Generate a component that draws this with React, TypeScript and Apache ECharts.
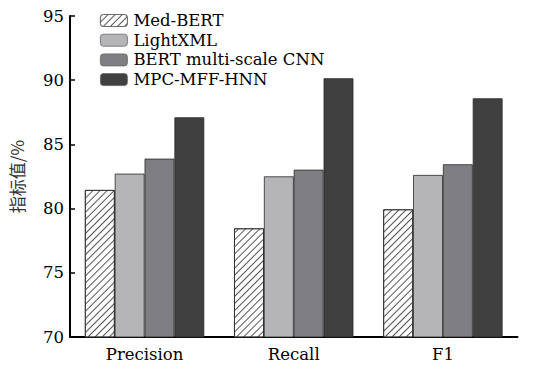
import React, { useEffect, useRef } from "react";
import * as echarts from "echarts";

const categories = ["Precision", "Recall", "F1"];
const seriesNames = ["Med-BERT", "LightXML", "BERT multi-scale CNN", "MPC-MFF-HNN"];
const medBert = [81.45, 78.46, 79.94];
const lightXML = [82.72, 82.51, 82.62];
const bertCNN = [83.89, 83.03, 83.45];
const mpcMffHnn = [87.11, 90.15, 88.59];
const yTicks = [70, 75, 80, 85, 90, 95];

const FONT = "DejaVu Serif";

export default function App() {
  const ref = useRef<HTMLDivElement>(null);
  useEffect(() => {
    if (!ref.current) return;
    const chart = echarts.init(ref.current, null, { renderer: "svg" });
    const border = { borderColor: "#2a2a2a", borderWidth: 0.8 };
    chart.setOption({
      animation: false,
      backgroundColor: "#ffffff",
      textStyle: { fontFamily: FONT },
      legend: {
        orient: "vertical",
        left: 95,
        top: 7,
        itemWidth: 27,
        itemHeight: 12,
        itemGap: 2.7,
        itemStyle: { borderColor: "#666", borderWidth: 0.8 },
        textStyle: { fontFamily: FONT, fontSize: 16.5, lineHeight: 16, color: "#000", padding: [0, 0, 0, 1] },
        data: seriesNames,
      },
      grid: { left: 66.5, right: 18.5, top: 16, bottom: 36, containLabel: false },
      xAxis: {
        type: "category",
        data: categories,
        axisLine: { lineStyle: { color: "#000", width: 2 } },
        axisTick: { show: false },
        axisLabel: { fontFamily: FONT, fontSize: 16.5, color: "#000", margin: 9 },
      },
      yAxis: {
        type: "value",
        min: yTicks[0],
        max: yTicks[yTicks.length - 1],
        interval: 5,
        splitLine: { show: false },
        axisLine: { show: true, lineStyle: { color: "#000", width: 2 } },
        axisTick: { show: true, inside: true, length: 5, lineStyle: { color: "#000", width: 1.5 } },
        axisLabel: { fontFamily: FONT, fontSize: 16.5, color: "#000", margin: 6 },
        name: "指标值/%",
        nameLocation: "middle",
        nameGap: 45,
        nameTextStyle: { fontFamily: "Noto Sans CJK SC", fontSize: 17, color: "#333" },
      },
      series: [
        {
          name: seriesNames[0],
          type: "bar",
          data: medBert,
          barGap: "0%",
          barCategoryGap: "20%",
          itemStyle: {
            color: "#ffffff",
            ...border,
            decal: {
              symbol: "rect",
              symbolSize: 1,
              color: "#555",
              backgroundColor: "#ffffff",
              dashArrayX: [1, 0],
              dashArrayY: [1, 4],
              rotation: -Math.PI / 4,
            },
          },
        },
        { name: seriesNames[1], type: "bar", data: lightXML, barGap: "0%", barCategoryGap: "20%", itemStyle: { color: "#b5b5b7", ...border } },
        { name: seriesNames[2], type: "bar", data: bertCNN, barGap: "0%", barCategoryGap: "20%", itemStyle: { color: "#7f7f83", ...border } },
        { name: seriesNames[3], type: "bar", data: mpcMffHnn, barGap: "0%", barCategoryGap: "20%", itemStyle: { color: "#404040", ...border } },
      ],
    });
    return () => chart.dispose();
  }, []);
  return <div ref={ref} style={{ width: 536, height: 373, position: "absolute", left: 0, top: 0 }} />;
}
